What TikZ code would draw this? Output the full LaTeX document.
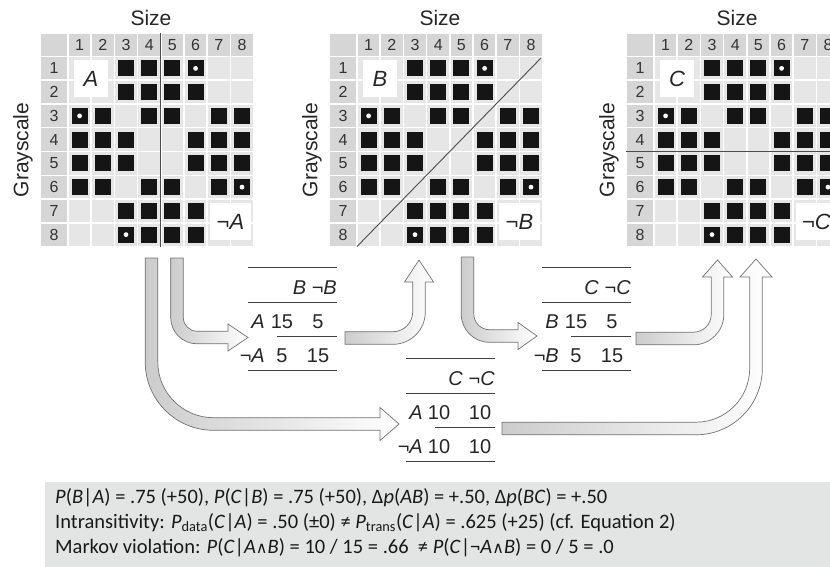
\documentclass[tikz,border=0pt]{standalone}
\usepackage{fontspec}
\setmainfont{Liberation Sans}
\newfontfamily\calib{Carlito}
\newfontfamily\dvs{DejaVu Sans}
\definecolor{cellgray}{HTML}{E6E6E6}
\definecolor{headgray}{HTML}{D6D6D6}
\definecolor{boxgray}{HTML}{E3E4E4}
\definecolor{sqblack}{HTML}{151515}
\def\cw{23.2}
\def\ch{23.75}
\def\aw{6.3}
\tikzset{
  digit/.style={font=\fontsize{16}{19}\selectfont, text=black!80, inner sep=0pt},
  axlabel/.style={font=\fontsize{21}{25}\selectfont, text=black!85, inner sep=0pt},
  setlbl/.style={fill=white, inner sep=0pt, font=\fontsize{22}{26}\selectfont\itshape, text=black!85},
  gridline/.style={draw=black!70, line width=0.9pt},
  tabtxt/.style={font=\fontsize{20}{24}\selectfont, text=black!85, inner sep=0pt},
  tabline/.style={draw=black!75, line width=0.8pt},
  blockarrow/.style={draw=black!55, line width=0.7pt, left color=black!20, right color=white},
  bottxt/.style={font=\calib\fontsize{20.5}{24}\selectfont, text=black!90, inner sep=0pt, anchor=base west}
}
\newcommand{\drawgrid}[2]{% #1 = left x, #2 = name prefix
  \def\xo{#1}%
  \fill[headgray] (\xo+0.75,33.75) rectangle (\xo+27.25,55.75);
  \foreach \c in {1,...,8} {
    \fill[headgray] ({\xo+28+(\c-1)*\cw+0.75},33.75) rectangle ({\xo+28+\c*\cw-0.75},55.75);
    \node[digit] (#2col\c) at ({\xo+28+(\c-0.5)*\cw},45) {\c};
  }
  \foreach \r in {1,...,8} {
    \fill[headgray] (\xo+0.75,{56.5+(\r-1)*\ch+0.75}) rectangle (\xo+27.25,{56.5+\r*\ch-0.75});
    \node[digit] (#2row\r) at (\xo+14,{56.5+(\r-0.5)*\ch}) {\r};
    \foreach \c in {1,...,8} {
      \fill[cellgray] ({\xo+28+(\c-1)*\cw+0.75},{56.5+(\r-1)*\ch+0.75}) rectangle ({\xo+28+\c*\cw-0.75},{56.5+\r*\ch-0.75});
    }
  }
  \foreach \r/\cl in {1/{3,4,5,6},2/{3,4,5,6},3/{1,2,4,5,7,8},4/{1,2,3,6,7,8},5/{1,2,3,6,7,8},6/{1,2,4,5,7,8},7/{3,4,5,6},8/{3,4,5,6}} {
    \foreach \c in \cl {
      \fill[sqblack] ({\xo+28+(\c-0.5)*\cw-8},{56.5+(\r-0.5)*\ch-8}) rectangle +(16,16);
    }
  }
  \foreach \c/\r in {6/1,1/3,8/6,3/8} {
    \fill[white] ({\xo+28+(\c-0.5)*\cw},{56.5+(\r-0.5)*\ch}) circle (2.4);
  }
  \node[axlabel] (#2size) at (\xo+111,18) {Size};
  \node[axlabel, rotate=90] (#2gray) at (\xo-17,150) {Grayscale};
}
\newcommand{\arrDR}[7]{% xc, ys, yh, R, h, xb, xt
  \pgfmathsetmacro\ko{0.5523*(#4+\aw)}%
  \pgfmathsetmacro\ki{0.5523*(#4-\aw)}%
  \draw[blockarrow] (#1-\aw,#2) -- (#1-\aw,#3-#4) .. controls (#1-\aw,#3-#4+\ko) and (#1+#4-\ko,#3+\aw) .. (#1+#4,#3+\aw) -- (#6,#3+\aw) -- (#6,#3+#5) -- (#7,#3) -- (#6,#3-#5) -- (#6,#3-\aw) -- (#1+#4,#3-\aw) .. controls (#1+#4-\ki,#3-\aw) and (#1+\aw,#3-#4+\ki) .. (#1+\aw,#3-#4) -- (#1+\aw,#2) -- cycle;
}
\newcommand{\arrRU}[7]{% xs, yh, xv, R, h, yb, yt
  \pgfmathsetmacro\ko{0.5523*(#4+\aw)}%
  \pgfmathsetmacro\ki{0.5523*(#4-\aw)}%
  \draw[blockarrow] (#1,#2+\aw) -- (#3-#4,#2+\aw) .. controls (#3-#4+\ko,#2+\aw) and (#3+\aw,#2-#4+\ko) .. (#3+\aw,#2-#4) -- (#3+\aw,#6) -- (#3+#5,#6) -- (#3,#7) -- (#3-#5,#6) -- (#3-\aw,#6) -- (#3-\aw,#2-#4) .. controls (#3-\aw,#2-#4+\ki) and (#3-#4+\ki,#2-\aw) .. (#3-#4,#2-\aw) -- (#1,#2-\aw) -- cycle;
}
% contingency table: #1 xL, #2 yTop, #3 name, #4 header, #5 lab1, #6 lab2, #7 values, #8 c1 offset, #9 c2 offset
\newcommand{\ctab}[9]{%
  \draw[tabline] (#1,#2) -- (#1+89,#2);
  \node[tabtxt, anchor=east] (#3hd) at (#1+89,#2+21) {#4};
  \draw[tabline] (#1,#2+35) -- (#1+89,#2+35);
  \draw[tabline] (#1+29,#2+69) -- (#1+89,#2+69);
  \draw[tabline] (#1,#2+103) -- (#1+89,#2+103);
  \node[tabtxt, anchor=east] (#3la) at (#1+17,#2+55) {#5};
  \node[tabtxt, anchor=east] (#3lb) at (#1+17,#2+89) {#6};
  \foreach \va/\vb/\vc/\vd in {#7} {
    \node[tabtxt] (#3v11) at (#1+#8,#2+55) {\va};
    \node[tabtxt] (#3v12) at (#1+#9,#2+55) {\vb};
    \node[tabtxt] (#3v21) at (#1+#8,#2+89) {\vc};
    \node[tabtxt] (#3v22) at (#1+#9,#2+89) {\vd};
  }
}
\begin{document}
\begin{tikzpicture}[x=1pt,y=-1pt]
\useasboundingbox (0,0) rectangle (830,567);
\clip (0,0) rectangle (830,567);
\fill[white] (0,0) rectangle (830,567);
% grids
\drawgrid{40}{ga}
\drawgrid{329}{gb}
\drawgrid{626}{gc}
% set labels
\node[setlbl, minimum width=34, minimum height=37] (lA) at (91,78.5) {A};
\node[setlbl, minimum width=41, minimum height=37] (lnA) at (230.5,221.5) {¬A};
\node[setlbl, minimum width=34, minimum height=37] (lB) at (380,78.5) {B};
\node[setlbl, minimum width=41, minimum height=37] (lnB) at (519.5,221.5) {¬B};
\node[setlbl, minimum width=34, minimum height=37] (lC) at (677,78.5) {C};
\node[setlbl, minimum width=41, minimum height=37] (lnC) at (816.5,221.5) {¬C};
% partition lines
\coordinate (pa1) at (160.8,33);
\coordinate (pa2) at (160.8,246.5);
\draw[gridline] (pa1) -- (pa2);
\coordinate (pb1) at (357,246.5);
\coordinate (pb2) at (541,58);
\draw[gridline] (pb1) -- (pb2);
\coordinate (pc1) at (626,151.5);
\coordinate (pc2) at (830,151.5);
\draw[gridline] (pc1) -- (pc2);
% tables
\ctab{248}{267}{tab}{\textit{B} ¬\textit{B}}{\textit{A}}{¬\textit{A}}{15/5/5/15}{34}{70}
\ctab{542}{267}{tbc}{\textit{C} ¬\textit{C}}{\textit{B}}{¬\textit{B}}{15/5/5/15}{34}{70}
\ctab{406}{358}{tac}{\textit{C} ¬\textit{C}}{\textit{A}}{¬\textit{A}}{10/10/10/10}{33}{74}
% arrows
\arrDR{151.5}{258}{424}{62}{16.5}{380}{399}
\arrDR{177}{258}{337.5}{20}{13.5}{228}{248}
\arrDR{467.5}{257}{336}{22}{13.5}{518}{537}
\arrRU{345}{338}{419}{26}{14.5}{282}{260}
\arrRU{636}{338.5}{717.5}{24}{15}{277}{260}
\arrRU{502}{428.5}{756}{60}{16}{277}{259}
% bottom box
\fill[boxgray] (45,482) rectangle (830,567);
\node[bottxt] (t1) at (55,503) {\textit{P}(\textit{B}|\textit{A}) = .75 (+50), \textit{P}(\textit{C}|\textit{B}) = .75 (+50), Δ\textit{p}(\textit{AB}) = +.50, Δ\textit{p}(\textit{BC}) = +.50};
\node[bottxt] (t2) at (55,528) {Intransitivity: \textit{P}\textsubscript{data}(\textit{C}|\textit{A}) = .50 (±0) ≠ \textit{P}\textsubscript{trans}(\textit{C}|\textit{A}) = .625 (+25) (cf. Equation 2)};
\node[bottxt] (t3) at (55,553) {Markov violation: \textit{P}(\textit{C}|\textit{A}{\dvs\fontsize{16}{18}\selectfont ∧}\textit{B}) = 10 / 15 = .66 \ ≠ \textit{P}(\textit{C}|¬\textit{A}{\dvs\fontsize{16}{18}\selectfont ∧}\textit{B}) = 0 / 5 = .0};
\end{tikzpicture}
\end{document}
